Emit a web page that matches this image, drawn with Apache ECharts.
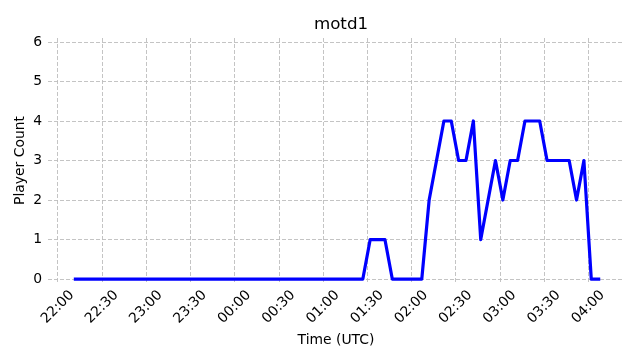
<!DOCTYPE html>
<html><head><meta charset="utf-8">
<script src="https://cdn.jsdelivr.net/npm/echarts@6/dist/echarts.min.js"></script>
<style>html,body{margin:0;padding:0;background:#fff}#c{width:640px;height:360px}</style>
</head><body><div id="c"></div>
<script>
const times = [
  "22:12","22:17","22:22","22:27","22:32","22:37","22:42","22:47","22:52","22:57",
  "23:02","23:07","23:12","23:17","23:22","23:27","23:32","23:37","23:42","23:47","23:52","23:57",
  "00:02","00:07","00:12","00:17","00:22","00:27","00:32","00:37","00:42","00:47","00:52","00:57",
  "01:02","01:07","01:12","01:17","01:22","01:27","01:32","01:37","01:42","01:47","01:52","01:57",
  "02:02","02:07","02:12","02:17","02:22","02:27","02:32","02:37","02:42","02:47","02:52","02:57",
  "03:02","03:07","03:12","03:17","03:22","03:27","03:32","03:37","03:42","03:47","03:52","03:57",
  "04:02","04:07"
];
const playerCounts = [
  0,0,0,0,0,0,0,0,0,0,
  0,0,0,0,0,0,0,0,0,0,0,0,
  0,0,0,0,0,0,0,0,0,0,0,0,
  0,0,0,0,0,0,1,1,1,0,0,0,
  0,0,2,3,4,4,3,3,4,1,2,3,
  2,3,3,4,4,4,3,3,3,3,2,3,
  0,0
];
const xTickLabels = ["22:00","22:30","23:00","23:30","00:00","00:30","01:00","01:30","02:00","02:30","03:00","03:30","04:00"];
const yTickValues = [0,1,2,3,4,5,6];

function toMin(s){const p=s.split(':').map(Number);let v=p[0]*60+p[1];if(p[0]<12)v+=1440;return v-1320;}
const xTickValues = xTickLabels.map(toMin);
const labelByValue = {};
xTickLabels.forEach((l,i)=>{labelByValue[xTickValues[i]]=l;});
const seriesData = times.map((t,i)=>[toMin(t), playerCounts[i]]);

const FONT = 'DejaVu Sans';
const gridLine = {show:true, lineStyle:{color:'#bdbdbd', width:0.9, type:[4,2]}};
const chart = echarts.init(document.getElementById('c'), null, {renderer:'canvas'});
chart.setOption({
  animation:false,
  backgroundColor:'#fff',
  title:{text:'motd1', left:336, textAlign:'center', top:11,
    textStyle:{fontFamily:FONT, fontSize:16.7, fontWeight:'normal', color:'#000'}},
  grid:{left:48, right:16, top:38, bottom:77},
  xAxis:{type:'value', min:-6.6, max:384.2,
    name:'Time (UTC)', nameLocation:'middle', nameGap:50,
    nameTextStyle:{fontFamily:FONT, fontSize:13.9, color:'#000'},
    axisLine:{show:false}, axisTick:{show:false, customValues:xTickValues},
    axisLabel:{customValues:xTickValues, rotate:45, align:'center', verticalAlign:'middle', margin:24,
      fontFamily:FONT, fontSize:13.9, color:'#000',
      formatter:v=>labelByValue[v]!==undefined?labelByValue[v]:''},
    splitLine:gridLine},
  yAxis:{type:'value', min:-0.1, max:6.1,
    name:'Player Count', nameLocation:'middle', nameGap:21, nameRotate:90, nameMoveOverlap:false,
    nameTextStyle:{fontFamily:FONT, fontSize:13.9, color:'#000'},
    axisLine:{show:false}, axisTick:{show:false, customValues:yTickValues},
    axisLabel:{customValues:yTickValues, margin:6, fontFamily:FONT, fontSize:13.9, color:'#000'},
    splitLine:gridLine},
  series:[{type:'line', data:seriesData, showSymbol:false, symbol:'none', clip:false,
    lineStyle:{color:'#0000ff', width:3.2, cap:'square', join:'round'}}]
});
</script></body></html>
